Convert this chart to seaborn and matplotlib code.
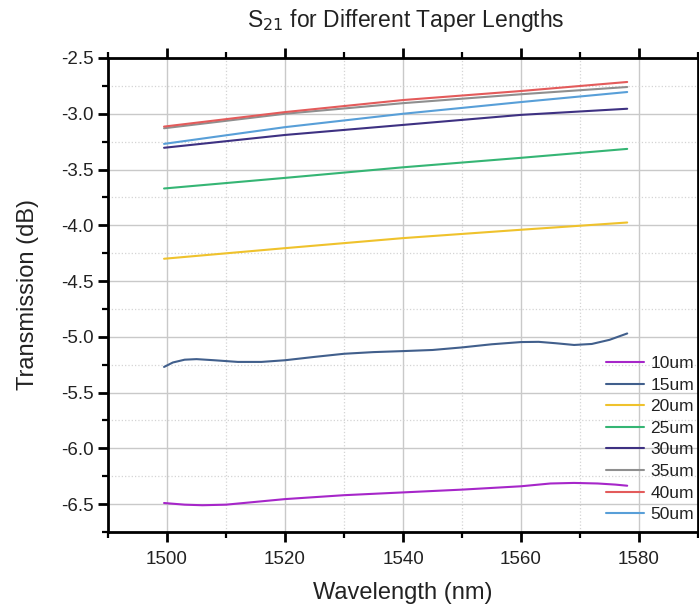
import matplotlib
matplotlib.use("Agg")
import matplotlib.pyplot as plt
from matplotlib.ticker import MultipleLocator
import seaborn as sns
import pandas as pd

# ---------------- data ----------------
series_names = ["10um", "15um", "20um", "25um", "30um", "35um", "40um", "50um"]
series_colors = ["#a626c9", "#415f8c", "#efc22c", "#35b574", "#3e3182", "#8f8f8f", "#e35b5b", "#589fd8"]

wl_10 = [1499.5, 1503, 1506, 1510, 1520, 1530, 1540, 1550, 1560, 1565, 1569, 1573, 1576, 1578]
s21_10 = [-6.49, -6.505, -6.51, -6.505, -6.455, -6.42, -6.395, -6.37, -6.34, -6.315, -6.31, -6.315, -6.325, -6.335]

wl_15 = [1499.5, 1501, 1503, 1505, 1508, 1512, 1516, 1520, 1525, 1530, 1535, 1540, 1545,
         1550, 1555, 1560, 1563, 1566, 1569, 1572, 1575, 1578]
s21_15 = [-5.27, -5.23, -5.205, -5.20, -5.21, -5.225, -5.225, -5.21, -5.18, -5.152, -5.137, -5.128, -5.118,
          -5.095, -5.067, -5.047, -5.045, -5.058, -5.073, -5.064, -5.027, -4.97]

wl_lin = [1499.5, 1520, 1540, 1560, 1578]
s21_20 = [-4.30, -4.205, -4.115, -4.04, -3.975]
s21_25 = [-3.67, -3.575, -3.48, -3.395, -3.315]
s21_30 = [-3.305, -3.19, -3.10, -3.01, -2.955]
s21_35 = [-3.13, -3.00, -2.905, -2.825, -2.76]
s21_40 = [-3.115, -2.985, -2.877, -2.796, -2.715]
s21_50 = [-3.27, -3.12, -3.00, -2.895, -2.805]

x_ticks = [1500, 1520, 1540, 1560, 1580]
y_ticks = [-2.5, -3.0, -3.5, -4.0, -4.5, -5.0, -5.5, -6.0, -6.5]

# ---------------- build long table ----------------
frames = []
for name, wl, vals in [("10um", wl_10, s21_10), ("15um", wl_15, s21_15),
                       ("20um", wl_lin, s21_20), ("25um", wl_lin, s21_25),
                       ("30um", wl_lin, s21_30), ("35um", wl_lin, s21_35),
                       ("40um", wl_lin, s21_40), ("50um", wl_lin, s21_50)]:
    frames.append(pd.DataFrame({"Wavelength": wl, "S21": vals, "Taper": name}))
df = pd.concat(frames, ignore_index=True)

# ---------------- plot ----------------
sns.set_theme(style="white")
plt.rcParams["font.family"] = ["Liberation Sans", "DejaVu Sans"]

fig = plt.figure(figsize=(6.99, 6.11), dpi=100)
ax = fig.add_axes([108 / 699, 1 - 532 / 611, 590 / 699, (532 - 58) / 611])

sns.lineplot(data=df, x="Wavelength", y="S21", hue="Taper", hue_order=series_names,
             palette=dict(zip(series_names, series_colors)), linewidth=1.5,
             estimator=None, sort=True, ax=ax)

ax.set_xlim(1490, 1590)
ax.set_ylim(-6.75, -2.5)
ax.set_xticks(x_ticks)
ax.set_yticks(y_ticks)
ax.set_yticklabels([f"{v:.1f}" for v in y_ticks])
ax.xaxis.set_minor_locator(MultipleLocator(10))
ax.yaxis.set_minor_locator(MultipleLocator(0.25))

ax.grid(True, which="major", color="#c9c9c9", linewidth=1.0, linestyle="-")
ax.grid(True, which="minor", color="#d4d4d4", linewidth=0.9, linestyle=":")
ax.set_axisbelow(True)

for side in ["left", "bottom", "top", "right"]:
    ax.spines[side].set_visible(True)
    ax.spines[side].set_color("black")
    ax.spines[side].set_linewidth(2.0)

ax.tick_params(which="major", direction="out", length=7, width=2.0, color="black",
               labelsize=13.5, labelcolor="#222222", top=True, right=True, left=True, bottom=True,
               labeltop=False, labelright=False)
ax.tick_params(axis="x", which="major", pad=7)
ax.tick_params(axis="y", which="major", pad=3)
ax.tick_params(which="minor", direction="out", length=4, width=1.6, color="black",
               top=True, right=True, left=True, bottom=True)

ax.set_xlabel("Wavelength (nm)", fontsize=17, color="#222222", labelpad=10)
ax.set_ylabel("Transmission (dB)", fontsize=17, color="#222222", labelpad=16)
fig.text(406 / 699, 1 - 21 / 611, r"S$_{21}$ for Different Taper Lengths", fontsize=16.5,
         ha="center", va="center", color="#222222")

leg = ax.legend(loc="upper left", bbox_to_anchor=(606 / 699, 1 - 356 / 611),
                bbox_transform=fig.transFigure, frameon=False, fontsize=12.5,
                handlelength=2.2, handletextpad=0.35, labelspacing=0.37, borderpad=0,
                borderaxespad=0)
for t in leg.get_texts():
    t.set_color("#222222")

fig.savefig("out.png", dpi=100, facecolor="white")
